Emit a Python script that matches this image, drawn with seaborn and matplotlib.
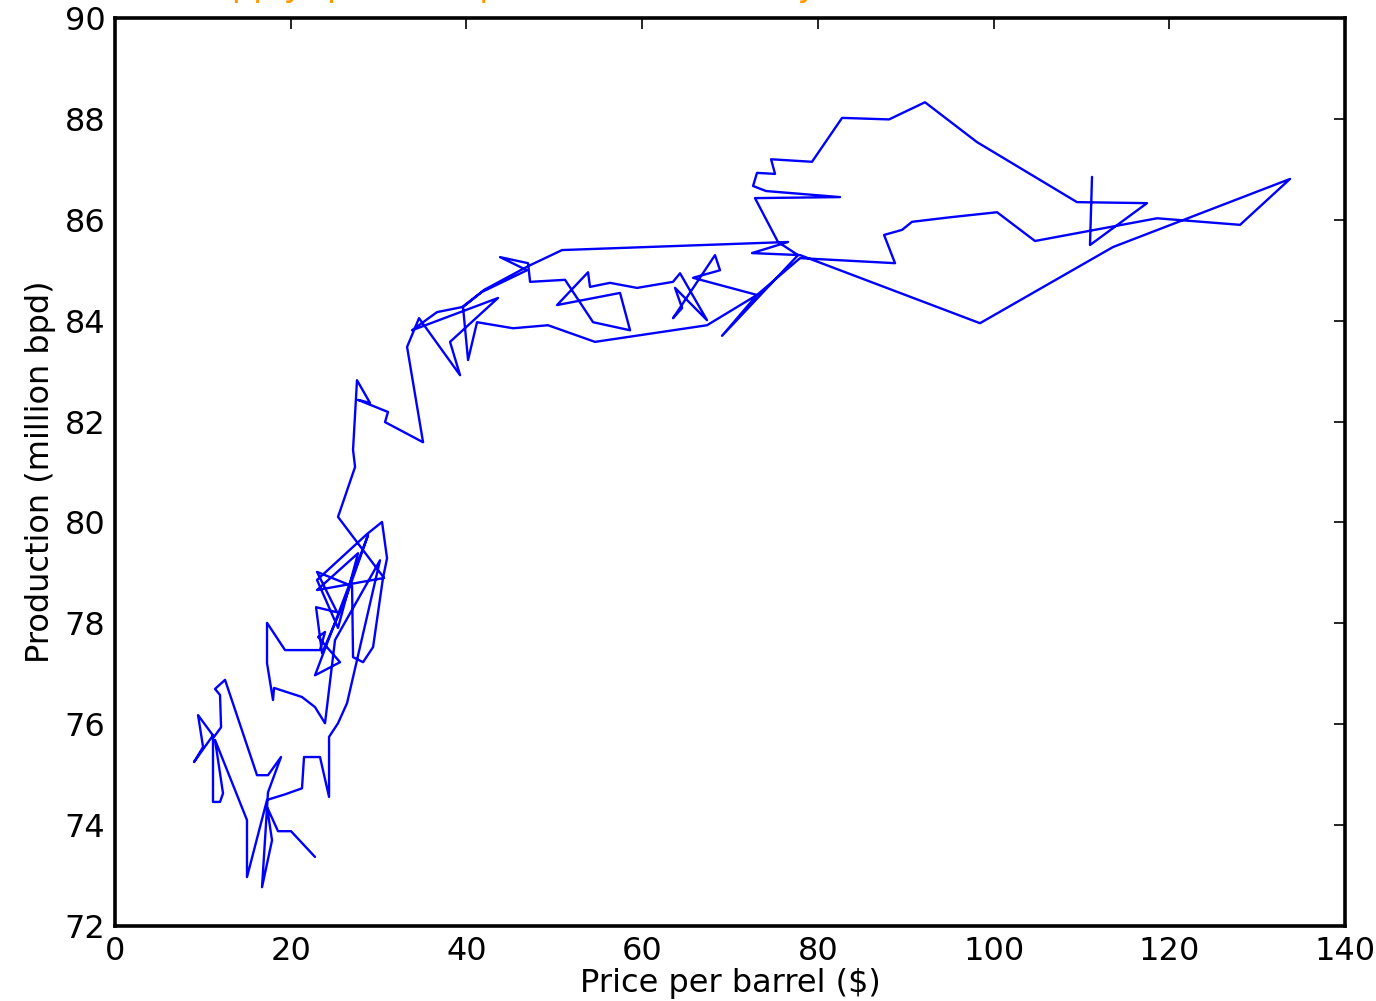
import numpy as np
import pandas as pd
import matplotlib
matplotlib.use("Agg")
import matplotlib.pyplot as plt
import seaborn as sns

price = [22.76, 20.03, 18.55, 17.30, 17.87, 16.73, 17.41, 18.89, 17.41, 16.16,
         12.52, 11.38, 11.95, 12.07, 11.27, 9.45, 10.02, 8.99, 11.15, 11.15,
         11.95, 12.29, 11.38, 15.02, 15.02, 17.30, 19.35, 21.28, 21.51, 23.33,
         24.36, 24.36,
         25.38, 26.41, 30.16, 25.04, 23.90, 22.76, 21.28, 18.10, 17.98, 17.30,
         17.30, 19.35, 23.33, 23.90, 23.11, 25.61, 22.76, 28.80, 26.18, 23.56,
         22.88, 25.27, 22.99, 26.98, 27.09, 28.23, 29.37, 30.50, 30.96, 30.39,
         28.68, 22.99, 25.38, 27.66, 22.99, 30.62, 25.38,
         27.32, 27.09, 27.54, 29.02, 27.66, 31.07, 30.73, 35.06, 33.24, 34.60,
         39.27, 38.13, 43.59, 33.80, 36.65, 39.50, 41.77, 46.89, 43.82, 47.01,
         47.24, 51.22, 54.41, 58.62, 57.48, 50.31, 53.84, 54.06, 56.34, 59.41,
         63.51, 64.31, 67.38, 63.74, 64.54, 63.51, 68.29, 68.86, 65.79, 73.07,
         77.97, 88.78, 87.53, 89.58, 90.71, 95.04, 100.39, 104.71, 118.60, 128.05,
         133.74, 113.59, 98.45, 77.97, 72.50, 76.60, 50.88, 47.01, 42.00, 39.61,
         40.18, 41.20, 45.30, 49.28, 54.63, 67.38, 73.07, 69.09, 77.74, 75.46,
         72.84, 82.52, 74.10, 72.62, 73.07, 75.12, 74.67, 79.33, 82.75, 88.10,
         92.19, 98.11, 109.49, 117.46, 110.97, 111.20]

production = [73.37, 73.88, 73.88, 74.36, 73.70, 72.77, 74.65, 75.35, 74.99, 74.99,
              76.88, 76.70, 76.58, 75.94, 75.75, 76.18, 75.55, 75.25, 75.78, 74.46,
              74.46, 74.63, 75.69, 74.10, 72.97, 74.50, 74.61, 74.73, 75.35, 75.35,
              74.56, 75.75,
              76.02, 76.42, 79.25, 77.67, 76.02, 76.34, 76.54, 76.72, 76.48, 77.21,
              78.01, 77.47, 77.47, 77.83, 77.73, 77.23, 76.97, 79.75, 78.46, 77.41,
              78.32, 78.22, 79.02, 78.74, 77.33, 77.23, 77.53, 78.90, 79.29, 80.01,
              79.77, 78.86, 77.91, 79.39, 78.66, 78.90, 80.11,
              81.10, 81.44, 82.82, 82.37, 82.43, 82.19, 81.99, 81.59, 83.48, 84.05,
              82.92, 83.58, 84.45, 83.81, 84.17, 84.27, 84.57, 85.00, 85.26, 85.14,
              84.77, 84.81, 83.97, 83.81, 84.55, 84.31, 84.96, 84.67, 84.75, 84.65,
              84.77, 84.94, 84.01, 84.65, 84.25, 84.05, 85.30, 85.00, 84.85, 84.51,
              85.24, 85.14, 85.70, 85.80, 85.96, 86.05, 86.15, 85.58, 86.03, 85.90,
              86.81, 85.46, 83.95, 85.30, 85.34, 85.56, 85.40, 85.08, 84.61, 84.27,
              83.22, 83.97, 83.85, 83.91, 83.58, 83.91, 84.51, 83.70, 85.30, 85.56,
              86.43, 86.45, 86.57, 86.67, 86.93, 86.91, 87.20, 87.15, 88.02, 87.99,
              88.33, 87.54, 86.35, 86.33, 85.50, 86.85]

x_ticks = [0, 20, 40, 60, 80, 100, 120, 140]
y_ticks = [72, 74, 76, 78, 80, 82, 84, 86, 88, 90]
x_label = "Price per barrel ($)"
y_label = "Production (million bpd)"
title_text = "Oil supply (price vs. production, monthly)"

df = pd.DataFrame({"price": price, "production": production})

sns.set_theme(style="white")
plt.rcParams["font.family"] = ["DejaVu Sans"]

fig = plt.figure(figsize=(13.76, 10.01), dpi=100)
ax = fig.add_axes([0.0836, 0.0749, 0.8939, 0.9071])

sns.lineplot(data=df, x="price", y="production", sort=False, estimator=None,
             color="#0000ff", linewidth=1.7, ax=ax)

ax.set_xlim(0, 140)
ax.set_ylim(72, 90)
ax.set_xticks(x_ticks)
ax.set_yticks(y_ticks)
ax.tick_params(axis="both", which="major", direction="in", length=8, width=1.2,
               labelsize=23, top=True, right=True, pad=7, color="black", labelcolor="black")
for s in ax.spines.values():
    s.set_visible(True)
    s.set_color("black")
    s.set_linewidth(2.6)
ax.set_xlabel(x_label, fontsize=23, color="black", labelpad=1)
ax.set_ylabel(y_label, fontsize=23, color="black", labelpad=6)
ax.grid(False)

fig.text(0.10, 1.004, title_text, color="#ff9900", fontsize=24, va="baseline", ha="left")

fig.savefig("out.png", dpi=100, facecolor="white")
